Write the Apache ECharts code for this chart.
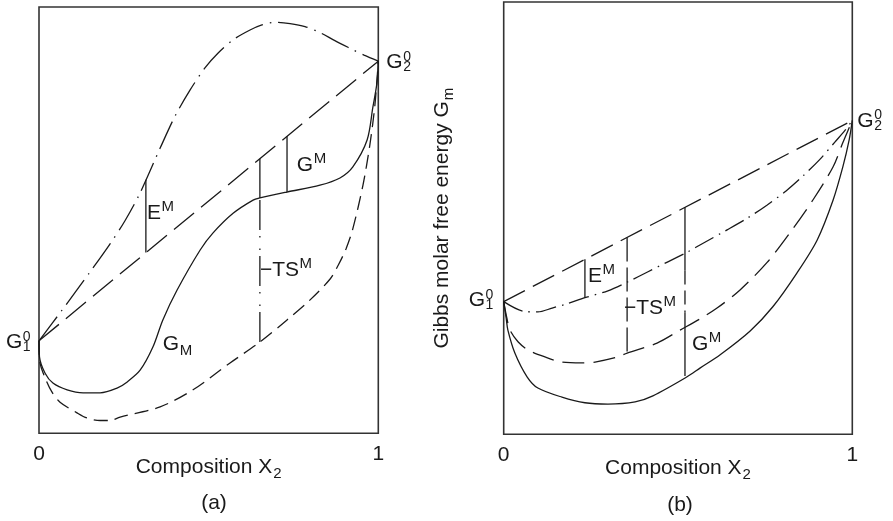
<!DOCTYPE html>
<html>
<head>
<meta charset="utf-8">
<script src="https://cdn.jsdelivr.net/npm/echarts@6/dist/echarts.min.js"></script>
<style>
  html, body { margin: 0; padding: 0; background: #fff; }
  #chart { width: 893px; height: 521px; }
</style>
</head>
<body>
<div id="chart"></div>
<script>
// ---- Panel (a): molar Gibbs energy of mixing with a large positive enthalpy ----
const xTickValues = [0, 1];
const aStraight = [[0, 21.7], [1, 87.3]];
const aEnthalpy = [
  [0, 21.7], [0.068, 28.9], [0.150, 37.8], [0.209, 44.4], [0.253, 49.8], [0.298, 56.4],
  [0.357, 66.9], [0.401, 74.4], [0.445, 80.5], [0.489, 85.7], [0.528, 89.2], [0.572, 92.3],
  [0.622, 94.6], [0.657, 95.8], [0.696, 96.4], [0.740, 96.1], [0.784, 95.4], [0.828, 94.0],
  [0.872, 92.1], [0.917, 90.3], [0.958, 88.7], [1, 87.3]
];
const aEntropy = [
  [0, 21.7], [0.003, 16.5], [0.018, 13.0], [0.038, 9.7], [0.062, 7.3], [0.112, 4.8],
  [0.141, 3.6], [0.180, 3.0], [0.209, 3.0], [0.239, 3.8], [0.357, 6.2], [0.454, 10.2],
  [0.563, 16.5], [0.651, 21.4], [0.731, 26.6], [0.799, 31.3], [0.858, 36.2], [0.881, 39.3],
  [0.905, 43.3], [0.925, 48.0], [0.955, 58.3], [0.975, 67.6], [0.990, 77.0], [1, 87.3]
];
const aGibbs = [
  [0, 21.7], [0.0015, 17.9], [0.018, 14.1], [0.041, 11.8], [0.083, 10.2], [0.130, 9.5],
  [0.180, 9.5], [0.230, 10.6], [0.259, 12.0], [0.298, 14.8], [0.336, 20.3], [0.365, 26.6],
  [0.407, 33.6], [0.475, 43.0], [0.513, 47.0], [0.572, 51.6], [0.631, 54.7], [0.651, 55.2],
  [0.731, 56.6], [0.828, 58.2], [0.887, 59.9], [0.925, 62.5], [0.967, 68.8], [0.984, 76.5],
  [0.996, 82.2], [1, 87.3]
];
// vertical markers: [x, from, to]
const aEmBars = [[0.315, 59.5, 42.4]];
const aGmBars = [[0.651, 64.4, 55.2], [0.731, 69.7, 56.6]];
const aTsBars = [[0.651, 21.4, 55.2]];

// ---- Panel (b): ideal-like mixing with a small negative enthalpy ----
const bStraight = [[0, 30.7], [1, 72.6]];
const bEnthalpy = [
  [0, 30.7], [0.055, 28.5], [0.098, 28.3], [0.139, 29.2], [0.182, 30.2], [0.233, 31.6],
  [0.299, 33.2], [0.357, 35.3], [0.414, 37.6], [0.471, 39.9], [0.528, 42.2], [0.563, 43.8],
  [0.641, 47.3], [0.701, 50.1], [0.755, 53.0], [0.810, 56.3], [0.859, 59.8], [0.907, 63.6],
  [0.950, 67.6], [0.979, 70.3], [1, 72.6]
];
const bEntropy = [
  [0, 30.7], [0.009, 26.9], [0.018, 24.1], [0.041, 21.4], [0.070, 19.5], [0.118, 17.9],
  [0.167, 16.7], [0.225, 16.5], [0.262, 16.7], [0.328, 17.9], [0.354, 18.8], [0.440, 21.1],
  [0.506, 24.1], [0.563, 26.7], [0.612, 29.2], [0.678, 33.4], [0.755, 39.7], [0.821, 46.6],
  [0.887, 54.2], [0.945, 61.9], [0.973, 67.5], [1, 72.6]
];
const bGibbs = [
  [0, 30.7], [0.007, 26.9], [0.012, 24.1], [0.032, 18.8], [0.067, 13.3], [0.098, 10.7],
  [0.167, 8.6], [0.233, 7.3], [0.299, 7.0], [0.377, 7.5], [0.428, 8.9], [0.526, 13.3],
  [0.563, 15.3], [0.621, 18.4], [0.707, 23.9], [0.772, 29.5], [0.841, 37.3], [0.899, 44.9],
  [0.945, 54.2], [0.973, 61.9], [0.991, 68.1], [1, 72.6]
];
const bEmBars = [[0.233, 40.5, 31.6]];
const bTsBars = [[0.354, 45.5, 18.8]];
const bGmSolidBars = [[0.520, 52.5, 37.9], [0.520, 28.2, 13.5]];
const bGmDashBars = [[0.520, 37.9, 28.2]];

// ---- text annotations: anchor in data units, nudged in pixels ----
const annotations = [
  { grid: 0, at: [0, 21.7], dx: -33, dy: 1.5, base: 'G', sup: '0', sub: '1' },
  { grid: 0, at: [1, 87.3], dx: 8, dy: 1.5, base: 'G', sup: '0', sub: '2' },
  { grid: 0, at: [0.318, 51.6], base: 'E', sup: 'M' },
  { grid: 0, at: [0.760, 62.8], base: 'G', sup: 'M' },
  { grid: 0, at: [0.651, 38.2], base: '\u2212TS', sup: 'M' },
  { grid: 0, at: [0.365, 20.8], base: 'G', sub: 'M' },
  { grid: 1, at: [0, 30.7], dx: -35, dy: -1, base: 'G', sup: '0', sub: '1' },
  { grid: 1, at: [1, 72.6], dx: 5, dy: 0.5, base: 'G', sup: '0', sub: '2' },
  { grid: 1, at: [0.242, 36.6], base: 'E', sup: 'M' },
  { grid: 1, at: [0.345, 29.1], base: '\u2212TS', sup: 'M' },
  { grid: 1, at: [0.540, 20.8], base: 'G', sup: 'M' }
];
const panelTags = ['(a)', '(b)'];

const FONT = '"Liberation Sans", Arial, Helvetica, sans-serif';
const INK = '#1a1a1a';
const BASE_SIZE = 21;
const SMALL_SIZE = 15;

const DASH_DOT_A = [30, 7, 1.5, 7];
const DASH_DOT_B = [21, 6, 1.5, 6];

function curve(grid, data, dash) {
  return {
    type: 'line', xAxisIndex: grid, yAxisIndex: grid, data: data,
    symbol: 'none', smooth: 0.3, silent: true,
    lineStyle: { color: INK, width: 1.3, type: dash || 'solid' }
  };
}
function bars(grid, list, dash) {
  return list.map(function (b) {
    return {
      type: 'line', xAxisIndex: grid, yAxisIndex: grid,
      data: [[b[0], b[1]], [b[0], b[2]]],
      symbol: 'none', silent: true,
      lineStyle: { color: INK, width: 1.3, type: dash || 'solid' }
    };
  });
}

const nameStyle = {
  fontSize: BASE_SIZE, color: INK, fontFamily: FONT,
  rich: { s: { fontSize: SMALL_SIZE, color: INK, fontFamily: FONT, verticalAlign: 'top', padding: [13, 0, 0, 1] } }
};

const grids = [
  { left: 39, top: 7, width: 339.3, height: 426.3 },
  { left: 503.7, top: 2, width: 348.6, height: 432.3 }
].map(function (g) {
  return Object.assign({
    show: true, borderColor: '#333', borderWidth: 1.6, backgroundColor: 'transparent',
    containLabel: false, outerBoundsMode: 'none'
  }, g);
});

const xAxes = [0, 1].map(function (i) {
  return {
    type: 'value', gridIndex: i, min: xTickValues[0], max: xTickValues[1], interval: 1,
    axisLine: { show: false }, axisTick: { show: false }, splitLine: { show: false },
    axisLabel: { fontSize: BASE_SIZE, color: INK, fontFamily: FONT, margin: 10 },
    name: 'Composition X{s|2}', nameLocation: 'middle', nameGap: 20, nameMoveOverlap: false,
    nameTextStyle: nameStyle
  };
});
const yAxes = [0, 1].map(function (i) {
  const ax = {
    type: 'value', gridIndex: i, min: 0, max: 100,
    axisLine: { show: false }, axisTick: { show: false }, splitLine: { show: false },
    axisLabel: { show: false }
  };
  if (i === 1) {
    Object.assign(ax, {
      name: 'Gibbs molar free energy G{s|m}', nameLocation: 'middle', nameRotate: 90,
      nameGap: 47, nameMoveOverlap: false, nameTextStyle: nameStyle
    });
  }
  return ax;
});

const series = [].concat(
  curve(0, aStraight, [26, 9]),
  curve(0, aEnthalpy, DASH_DOT_A),
  curve(0, aEntropy, [14, 7]),
  curve(0, aGibbs),
  bars(0, aEmBars), bars(0, aGmBars), bars(0, aTsBars, [30, 6, 1.5, 11, 1.5, 6]),
  curve(1, bStraight, [24, 9]),
  curve(1, bEnthalpy, DASH_DOT_B),
  curve(1, bEntropy, [22, 9]),
  curve(1, bGibbs),
  bars(1, bEmBars), bars(1, bTsBars, [24, 6]),
  bars(1, bGmSolidBars), bars(1, bGmDashBars, [14, 6])
);

const chart = echarts.init(document.getElementById('chart'), null, { renderer: 'canvas' });
chart.setOption({
  animation: false,
  grid: grids, xAxis: xAxes, yAxis: yAxes, series: series
});

// place the annotation texts
const measure = document.createElement('canvas').getContext('2d');
function textEl(x, y, text, size, align) {
  return {
    type: 'text', x: x, y: y, silent: true,
    style: {
      text: text, fill: INK, font: size + 'px ' + FONT,
      textAlign: align || 'left', textVerticalAlign: 'middle',
      align: align || 'left', verticalAlign: 'middle'
    }
  };
}
const elements = [];
annotations.forEach(function (a) {
  const p = chart.convertToPixel({ xAxisIndex: a.grid, yAxisIndex: a.grid }, a.at);
  const x = p[0] + (a.dx || 0);
  const y = p[1] + (a.dy || 0);
  elements.push(textEl(x, y, a.base, BASE_SIZE));
  measure.font = BASE_SIZE + 'px ' + FONT;
  const w = measure.measureText(a.base).width;
  if (a.sup && a.sub) {
    elements.push(textEl(x + w + 0.5, y - 5.5, a.sup, SMALL_SIZE - 1));
    elements.push(textEl(x + w + 0.5, y + 5, a.sub, SMALL_SIZE - 1));
  } else if (a.sup) {
    elements.push(textEl(x + w + 0.5, y - 6.5, a.sup, SMALL_SIZE));
  } else if (a.sub) {
    elements.push(textEl(x + w + 0.5, y + 6, a.sub, SMALL_SIZE));
  }
});
elements.push(textEl(214, 503, panelTags[0], BASE_SIZE, 'center'));
elements.push(textEl(680, 505, panelTags[1], BASE_SIZE, 'center'));
chart.setOption({ graphic: elements });
</script>
</body>
</html>
